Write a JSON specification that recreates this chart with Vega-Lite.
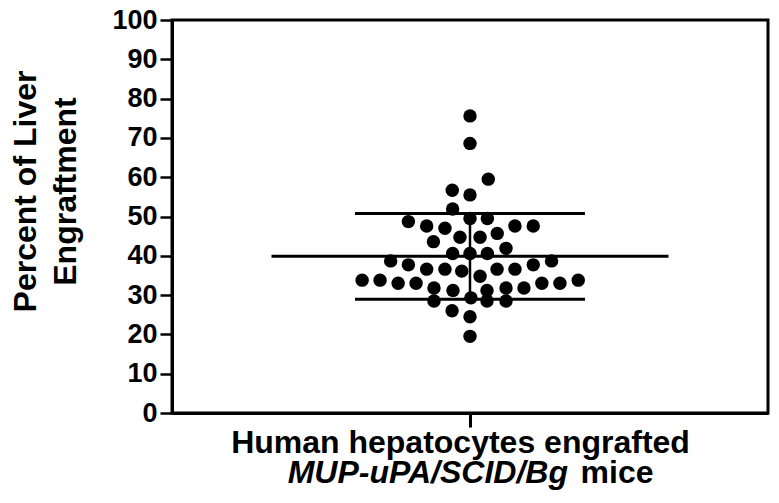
{
  "$schema": "https://vega.github.io/schema/vega-lite/v6.json",
  "width": 596,
  "height": 393,
  "autosize": "none",
  "padding": {"left": 172, "top": 20, "right": 11, "bottom": 90},
  "background": "white",
  "data": {
    "values": [
      {"jitter": 0, "pct": 75.6},
      {"jitter": 0, "pct": 68.6},
      {"jitter": 1.0, "pct": 59.5},
      {"jitter": -0.97, "pct": 56.7},
      {"jitter": 0, "pct": 55.5},
      {"jitter": -0.95, "pct": 51.9},
      {"jitter": -3.37, "pct": 48.7},
      {"jitter": -2.37, "pct": 47.6},
      {"jitter": -1.37, "pct": 47.0},
      {"jitter": 0, "pct": 49.5},
      {"jitter": 0.95, "pct": 49.5},
      {"jitter": 2.46, "pct": 47.6},
      {"jitter": 3.46, "pct": 47.6},
      {"jitter": -2.0, "pct": 43.6},
      {"jitter": -0.55, "pct": 44.7},
      {"jitter": 0.55, "pct": 44.7},
      {"jitter": 1.49, "pct": 45.7},
      {"jitter": -0.95, "pct": 40.6},
      {"jitter": 0, "pct": 40.6},
      {"jitter": 0.95, "pct": 40.6},
      {"jitter": 1.97, "pct": 41.9},
      {"jitter": -4.34, "pct": 38.7},
      {"jitter": -3.37, "pct": 37.7},
      {"jitter": -2.37, "pct": 36.6},
      {"jitter": -1.37, "pct": 36.6},
      {"jitter": -0.45, "pct": 36.1},
      {"jitter": 0.55, "pct": 34.8},
      {"jitter": 1.48, "pct": 36.6},
      {"jitter": 2.46, "pct": 36.6},
      {"jitter": 3.46, "pct": 37.7},
      {"jitter": 4.46, "pct": 38.7},
      {"jitter": -5.9, "pct": 33.8},
      {"jitter": -4.92, "pct": 33.8},
      {"jitter": -3.93, "pct": 33.0},
      {"jitter": -2.95, "pct": 33.0},
      {"jitter": -1.97, "pct": 31.8},
      {"jitter": -0.93, "pct": 31.2},
      {"jitter": 0.93, "pct": 31.2},
      {"jitter": 1.97, "pct": 31.8},
      {"jitter": 2.95, "pct": 31.8},
      {"jitter": 3.93, "pct": 33.0},
      {"jitter": 4.92, "pct": 33.0},
      {"jitter": 5.92, "pct": 33.8},
      {"jitter": -1.97, "pct": 28.5},
      {"jitter": 0.05, "pct": 29.3},
      {"jitter": 0.93, "pct": 28.5},
      {"jitter": 1.97, "pct": 28.5},
      {"jitter": -0.98, "pct": 26.0},
      {"jitter": 0, "pct": 24.5},
      {"jitter": 0, "pct": 19.5}
    ]
  },
  "resolve": {"axis": {"x": "independent", "y": "independent"}},
  "layer": [
    {
      "mark": {"type": "point", "filled": true, "shape": "circle", "size": 180, "color": "black", "opacity": 1},
      "encoding": {
        "x": {
          "field": "jitter",
          "type": "quantitative",
          "title": "Human hepatocytes engrafted",
          "scale": {"domain": [-16.3, 16.3], "nice": false, "zero": false},
          "axis": {"values": [0], "labels": false}
        },
        "y": {
          "field": "pct",
          "type": "quantitative",
          "title": ["Percent of Liver", "Engraftment"],
          "scale": {"domain": [0, 100], "nice": false},
          "axis": {"values": [0, 10, 20, 30, 40, 50, 60, 70, 80, 90, 100], "labelOverlap": false}
        }
      }
    },
    {
      "mark": {"type": "errorbar", "extent": "stdev", "orient": "vertical", "color": "black", "opacity": 1, "thickness": 2.5, "ticks": {"size": 230, "thickness": 3, "color": "black", "opacity": 1}},
      "encoding": {
        "x": {"datum": 0, "axis": null},
        "y": {"field": "pct", "type": "quantitative", "axis": null}
      }
    },
    {
      "mark": {"type": "tick", "orient": "horizontal", "size": 397, "thickness": 3, "color": "black", "opacity": 1},
      "encoding": {
        "x": {"datum": 0, "axis": null},
        "y": {"aggregate": "mean", "field": "pct", "type": "quantitative", "axis": null}
      }
    },
    {
      "data": {"values": [{"part": "strain"}]},
      "mark": {"type": "text", "font": "Liberation Sans", "fontSize": 32, "fontWeight": "bold", "fontStyle": "italic", "align": "right", "baseline": "alphabetic", "dy": 70, "color": "black"},
      "encoding": {
        "x": {"datum": 5.36, "axis": null},
        "y": {"datum": 0, "axis": null},
        "text": {"value": "MUP-uPA/SCID/Bg"}
      }
    },
    {
      "data": {"values": [{"part": "mice"}]},
      "mark": {"type": "text", "font": "Liberation Sans", "fontSize": 32, "fontWeight": "bold", "align": "left", "baseline": "alphabetic", "dy": 70, "color": "black"},
      "encoding": {
        "x": {"datum": 6.05, "axis": null},
        "y": {"datum": 0, "axis": null},
        "text": {"value": "mice"}
      }
    }
  ],
  "config": {
    "view": {"stroke": "black", "strokeWidth": 3},
    "axis": {
      "grid": false,
      "tickColor": "black",
      "domainColor": "black",
      "domainWidth": 3,
      "titleFont": "Liberation Sans",
      "titleFontSize": 32,
      "titleFontWeight": "bold",
      "titleColor": "black",
      "labelFont": "Liberation Sans",
      "labelFontWeight": "bold",
      "labelColor": "black"
    },
    "axisX": {
      "tickSize": 14,
      "tickWidth": 3,
      "titleX": 288,
      "titleY": 39,
      "titleAlign": "center",
      "titleBaseline": "alphabetic"
    },
    "axisY": {
      "tickSize": 12,
      "tickWidth": 2.5,
      "labelFontSize": 27,
      "labelPadding": 3,
      "labelOverlap": false,
      "titleAngle": 270,
      "titleX": -147,
      "titleY": 171,
      "titleAlign": "center",
      "titleBaseline": "middle",
      "titleLineHeight": 40
    }
  }
}
